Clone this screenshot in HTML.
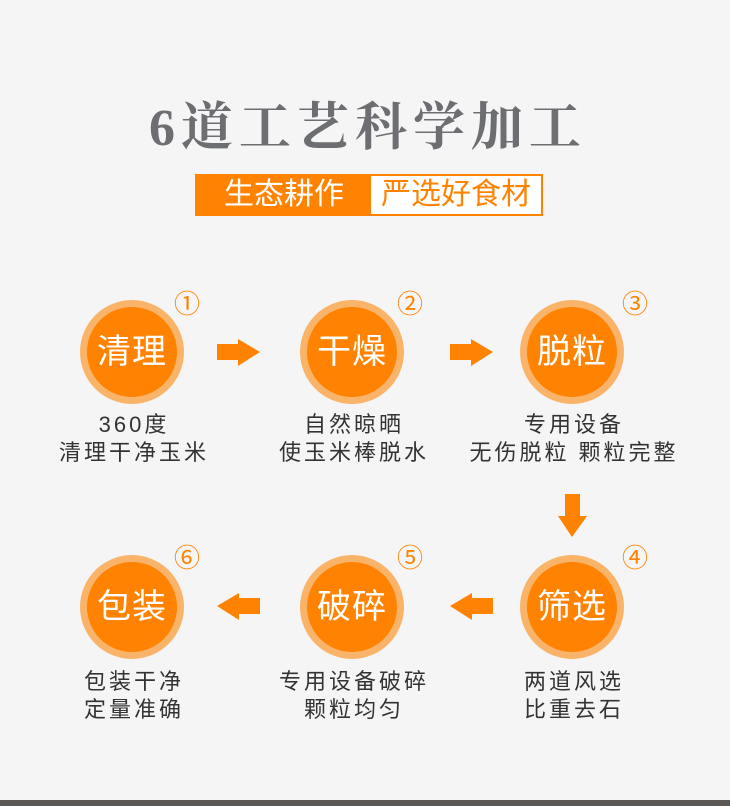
<!DOCTYPE html>
<html><head><meta charset="utf-8"><style>
*{margin:0;padding:0;box-sizing:border-box}
body{width:730px;height:806px;background:#f5f5f5;position:relative;overflow:hidden;font-family:"Liberation Sans","Noto Sans CJK SC",sans-serif}
.title{position:absolute;left:0;width:730px;top:98px;text-align:center;font-family:"Liberation Serif","Noto Serif CJK SC",serif;font-weight:bold;font-size:52px;color:#6d6e72;letter-spacing:6px;text-indent:6px;line-height:62px}
.banner{position:absolute;left:195px;top:174px;width:348px;height:42px;border:2px solid #ff8200;background:#fff}
.banner .a{position:absolute;left:0;top:0;width:174px;height:38px;background:#ff8200;color:#fff;font-size:30px;line-height:38px;text-align:center}
.banner .b{position:absolute;left:174px;top:0;width:170px;height:38px;color:#ff8200;font-size:30px;line-height:38px;text-align:center}
.c{position:absolute;width:104px;height:104px;border-radius:50%;background:#f9b46a}
.c div{position:absolute;left:7px;top:7px;width:90px;height:90px;border-radius:50%;background:#ff8200;color:#fff;font-size:34px;line-height:90px;text-align:center;letter-spacing:1px}
.n{position:absolute;width:30px;height:30px;color:#ff8200;font-size:26px;line-height:30px;text-align:center}
.t{position:absolute;width:260px;text-align:center;color:#333;font-size:22px;line-height:28px;letter-spacing:3px}
.strip{position:absolute;left:0;top:800px;width:730px;height:6px;background:#5a5654}
</style></head><body>
<div class="title">6道工艺科学加工</div>
<div class="banner"><div class="a">生态耕作</div><div class="b">严选好食材</div></div>

<div class="c" style="left:80px;top:300px"><div>清理</div></div>
<div class="c" style="left:300px;top:300px"><div>干燥</div></div>
<div class="c" style="left:520px;top:300px"><div>脱粒</div></div>
<div class="c" style="left:520px;top:555px"><div>筛选</div></div>
<div class="c" style="left:300px;top:555px"><div>破碎</div></div>
<div class="c" style="left:80px;top:555px"><div>包装</div></div>

<div class="n" style="left:172px;top:289px">①</div>
<div class="n" style="left:395px;top:289px">②</div>
<div class="n" style="left:620px;top:289px">③</div>
<div class="n" style="left:620px;top:543px">④</div>
<div class="n" style="left:395px;top:543px">⑤</div>
<div class="n" style="left:172px;top:543px">⑥</div>

<div class="t" style="left:4px;top:411px">360度<br>清理干净玉米</div>
<div class="t" style="left:224px;top:411px">自然晾晒<br>使玉米棒脱水</div>
<div class="t" style="left:444px;top:411px">专用设备<br>无伤脱粒 颗粒完整</div>
<div class="t" style="left:444px;top:668px">两道风选<br>比重去石</div>
<div class="t" style="left:224px;top:668px">专用设备破碎<br>颗粒均匀</div>
<div class="t" style="left:4px;top:668px">包装干净<br>定量准确</div>

<svg width="730" height="806" style="position:absolute;left:0;top:0">
<g fill="#ff8200">
<polygon points="217,344 238,344 238,339 260,352 238,366 238,360 217,360"/>
<polygon points="450,344 471,344 471,339 493,352 471,366 471,360 450,360"/>
<polygon points="565,494 580,494 580,516 587,516 572,537 558,516 565,516"/>
<polygon points="493,598 472,598 472,593 450,606 472,620 472,614 493,614"/>
<polygon points="260,598 239,598 239,593 217,606 239,620 239,614 260,614"/>
</g></svg>
<div class="strip"></div>
</body></html>
